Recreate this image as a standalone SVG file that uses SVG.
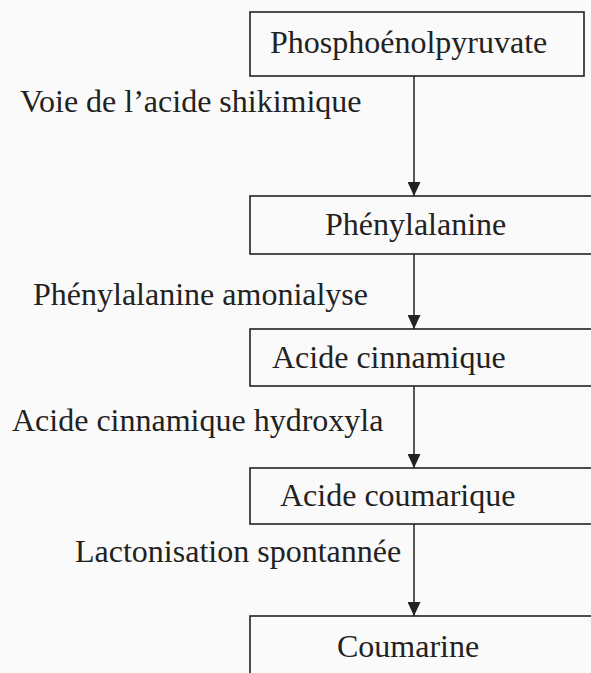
<svg xmlns="http://www.w3.org/2000/svg" width="591" height="673" viewBox="0 0 591 673">
  <style>
    .box { fill: none; stroke: #222; stroke-width: 1.6; }
    .node-text { font-family: "Liberation Serif", "Times New Roman", serif; font-size: 32px; fill: #222; }
    .label { font-family: "Liberation Serif", "Times New Roman", serif; font-size: 32px; fill: #222; }
    .conn { stroke: #222; stroke-width: 1.5; fill: none; marker-end: url(#arrow); }
  </style>
  <defs>
    <marker id="arrow" viewBox="0 0 14 13" refX="14" refY="6.5" markerWidth="14" markerHeight="13" markerUnits="userSpaceOnUse" orient="auto">
      <path d="M0,0 L14,6.5 L0,13 Z" fill="#222"/>
    </marker>
  </defs>
  <rect x="0" y="0" width="591" height="673" fill="#fafafa"/>

  <g id="connectors">
    <line class="conn" x1="414" y1="76" x2="414" y2="196"/>
    <line class="conn" x1="414" y1="254" x2="414" y2="329"/>
    <line class="conn" x1="414" y1="386" x2="414" y2="468"/>
    <line class="conn" x1="414" y1="524" x2="414" y2="616"/>
    <text class="label" x="20" y="112">Voie de l’acide shikimique</text>
    <text class="label" x="33" y="305">Phénylalanine amonialyse</text>
    <text class="label" x="12" y="431">Acide cinnamique hydroxyla</text>
    <text class="label" x="75" y="562">Lactonisation spontannée</text>
  </g>

  <g id="phosphoenolpyruvate">
    <rect class="box" x="250" y="12" width="334" height="64"/>
    <text class="node-text" x="270" y="53">Phosphoénolpyruvate</text>
  </g>
  <g id="phenylalanine">
    <rect class="box" x="250" y="196" width="360" height="58"/>
    <text class="node-text" x="325" y="235">Phénylalanine</text>
  </g>
  <g id="acide-cinnamique">
    <rect class="box" x="250" y="329" width="360" height="57"/>
    <text class="node-text" x="272" y="368">Acide cinnamique</text>
  </g>
  <g id="acide-coumarique">
    <rect class="box" x="250" y="468" width="360" height="56"/>
    <text class="node-text" x="280" y="506">Acide coumarique</text>
  </g>
  <g id="coumarine">
    <rect class="box" x="250" y="616" width="360" height="80"/>
    <text class="node-text" x="337" y="657">Coumarine</text>
  </g>
</svg>
